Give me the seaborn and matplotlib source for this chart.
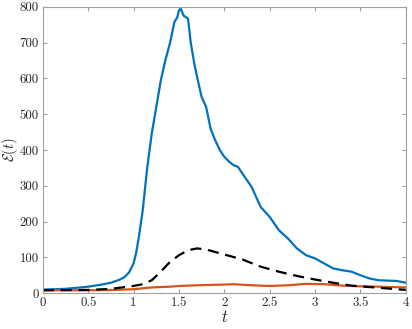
import numpy as np
import pandas as pd
import seaborn as sns
import matplotlib
matplotlib.use("Agg")
import matplotlib.pyplot as plt

# Blue curve
t_blue = [0, 0.25, 0.5, 0.65, 0.75, 0.85, 0.9, 0.95, 1.0, 1.03, 1.06, 1.1, 1.15, 1.2, 1.25,
          1.3, 1.35, 1.4, 1.45, 1.48, 1.5, 1.52, 1.55, 1.6, 1.63, 1.67, 1.7, 1.75, 1.8,
          1.85, 1.9, 1.95, 2.0, 2.05, 2.1, 2.15, 2.2, 2.3, 2.4, 2.5, 2.6, 2.7, 2.8, 2.9,
          3.0, 3.1, 3.2, 3.3, 3.4, 3.5, 3.6, 3.7, 3.8, 3.9, 4.0]
e_blue = [10, 12, 18, 24, 29, 38, 45, 58, 83, 115, 160, 230, 350, 446, 520,
          595, 651, 698, 758, 770, 790, 795, 776, 767, 700, 640, 604, 548, 520,
          458, 427, 400, 381, 368, 358, 353, 334, 297, 241, 213, 176, 153, 125, 106,
          97, 83, 69, 64, 60, 50, 41, 36, 35, 34, 29]

# Black dashed curve
t_black = [0, 0.5, 0.75, 1.0, 1.1, 1.2, 1.3, 1.4, 1.5, 1.6, 1.7, 1.8, 1.9, 2.0, 2.2,
           2.4, 2.6, 2.8, 3.0, 3.2, 3.4, 3.6, 3.8, 4.0]
e_black = [8, 9, 12, 20, 25, 36, 60, 87, 106, 120, 125, 122, 115, 108, 94,
           74, 60, 48, 38, 29, 21, 17, 13, 9]

# Orange curve
t_orange = [0, 0.5, 0.8, 1.0, 1.2, 1.4, 1.5, 1.7, 2.0, 2.1, 2.3, 2.5, 2.7, 2.9, 3.1,
            3.3, 3.5, 3.7, 4.0]
e_orange = [8, 8, 9, 11, 16, 18, 20, 22, 24, 25, 22, 20, 22, 26, 25,
            21, 19, 18, 16]

x_ticks = [0, 0.5, 1, 1.5, 2, 2.5, 3, 3.5, 4]
x_ticklabels = ["0", "0.5", "1", "1.5", "2", "2.5", "3", "3.5", "4"]
y_ticks = [0, 100, 200, 300, 400, 500, 600, 700, 800]

sns.set_style("white")
plt.rcParams["font.family"] = ["serif"]
plt.rcParams["font.serif"] = ["cmr10", "DejaVu Serif"]
plt.rcParams["mathtext.fontset"] = "cm"
plt.rcParams["axes.formatter.use_mathtext"] = True

fig = plt.figure(figsize=(4.12, 3.29), dpi=100)
ax = fig.add_axes([0.104, 0.109, 0.881, 0.870])

sns.lineplot(x=t_blue, y=e_blue, ax=ax, color="#0072BD", linewidth=1.6)
sns.lineplot(x=t_orange, y=e_orange, ax=ax, color="#D95319", linewidth=1.6)
sns.lineplot(x=t_black, y=e_black, ax=ax, color="black", linewidth=1.6,
             linestyle=(0, (5, 3)))

ax.set_xlim(0, 4)
ax.set_ylim(0, 800)
ax.set_xticks(x_ticks)
ax.set_xticklabels(x_ticklabels)
ax.set_yticks(y_ticks)
ax.set_yticklabels([str(v) for v in y_ticks])
ax.set_xlabel(r"$t$", fontsize=12, labelpad=0)
ax.set_ylabel(r"$\mathcal{E}(t)$", fontsize=10.5)
ax.yaxis.set_label_coords(-0.064, 0.5)

for s in ax.spines.values():
    s.set_visible(True)
    s.set_color("#a0a0a0")
    s.set_linewidth(0.8)
ax.tick_params(direction="in", length=3, width=0.8, color="#a0a0a0",
               labelsize=9.3, labelcolor="#262626", top=True, right=True,
               bottom=True, left=True, pad=3)

fig.savefig("out.png", dpi=100)
